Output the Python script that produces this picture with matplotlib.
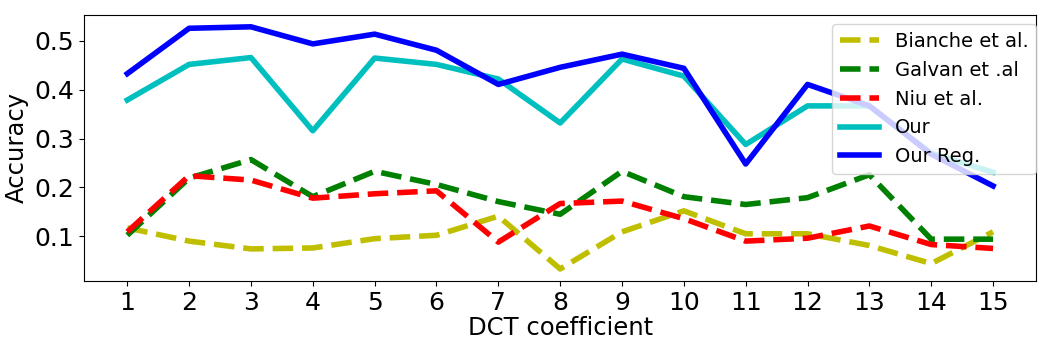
import numpy as np
import matplotlib
matplotlib.use("Agg")
import matplotlib.pyplot as plt

# ── Data ───────────────────────────────────────────────────────────────────────
coeffs   = np.arange(1, 16)
bianche  = [0.117, 0.090, 0.074, 0.076, 0.095, 0.102, 0.141, 0.033, 0.109, 0.152,
            0.105, 0.105, 0.081, 0.044, 0.109]
galvan   = [0.102, 0.219, 0.257, 0.181, 0.233, 0.206, 0.171, 0.145, 0.233, 0.181,
            0.165, 0.179, 0.226, 0.094, 0.094]
niu      = [0.109, 0.224, 0.215, 0.178, 0.187, 0.193, 0.088, 0.167, 0.172, 0.136,
            0.090, 0.096, 0.121, 0.083, 0.075]
our      = [0.379, 0.452, 0.466, 0.316, 0.465, 0.452, 0.422, 0.332, 0.463, 0.428,
            0.288, 0.367, 0.367, 0.270, 0.231]
our_reg  = [0.433, 0.526, 0.529, 0.494, 0.514, 0.481, 0.411, 0.446, 0.473, 0.444,
            0.248, 0.411, 0.367, 0.268, 0.203]

# ── Plot ───────────────────────────────────────────────────────────────────────
fig = plt.figure(figsize=(10.5, 3.5), dpi=100)
ax = fig.add_axes([0.080, 0.197, 0.907, 0.761])

ax.plot(coeffs, bianche, 'y--', lw=4, label='Bianche et al.')
ax.plot(coeffs, galvan,  'g--', lw=4, label='Galvan et .al')
ax.plot(coeffs, niu,     'r--', lw=4, label='Niu et al.')
ax.plot(coeffs, our,     'c-',  lw=4, label='Our')
ax.plot(coeffs, our_reg, 'b-',  lw=4, label='Our Reg.')

ax.set_xticks(coeffs)
ax.set_yticks([0.1, 0.2, 0.3, 0.4, 0.5])
ax.tick_params(labelsize=18)
ax.set_xlabel("DCT coefficient", fontsize=17.5, labelpad=1)
ax.set_ylabel("Accuracy", fontsize=17.5)
ax.legend(loc='upper right', bbox_to_anchor=(1.01, 1.0), fontsize=14)

plt.savefig("out.png", dpi=100)
